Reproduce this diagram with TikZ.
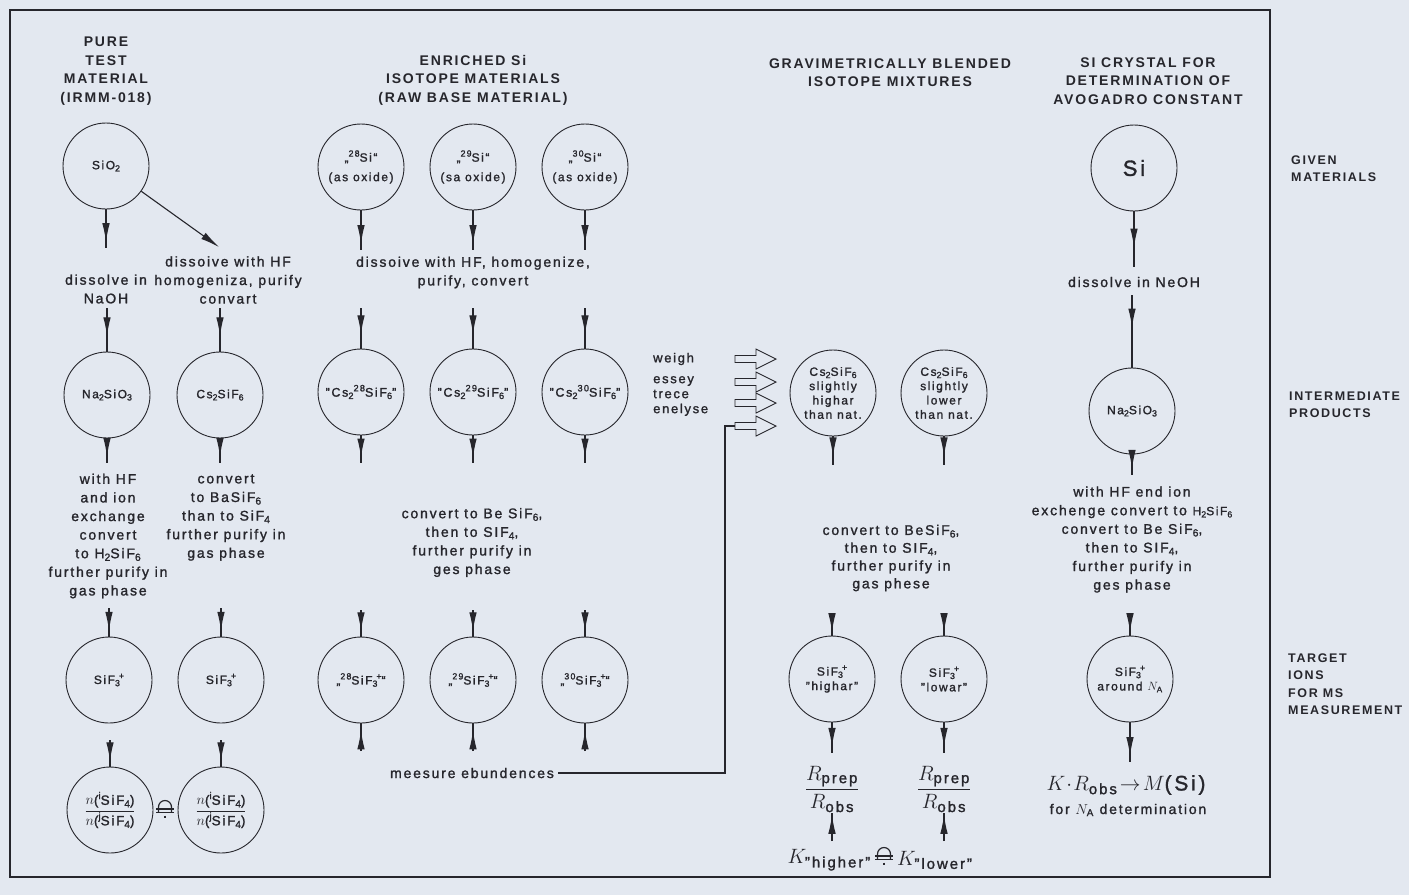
\documentclass[tikz,border=0pt]{standalone}
\usepackage{fontspec}
\setmainfont{Liberation Sans}[LetterSpace=13, UprightFeatures={FakeBold=1.4}]
\usetikzlibrary{arrows.meta,decorations.markings}
\newcommand\fs[2]{\fontsize{#1}{#2}\selectfont}
\newcommand\sbs[1]{\raisebox{-0.35ex}{\scalebox{0.74}{#1}}}
\newcommand\sps[1]{\raisebox{0.8ex}{\scalebox{0.74}{#1}}}
\definecolor{bg}{RGB}{227,232,240}
\definecolor{ink}{RGB}{38,38,44}
\tikzset{
  circ/.style={circle, draw=ink, line width=0.9pt, minimum size=86pt, inner sep=0pt, align=center, font=\fs{12}{14.5}},
  txt/.style={align=center, inner sep=0pt, font=\fs{14}{18.6}},
  hdr/.style={align=center, inner sep=0pt, font=\fs{14}{18.6}\bfseries},
  side/.style={align=left, anchor=west, inner sep=0pt, font=\fs{12.5}{17.5}\bfseries},
  flow/.style={draw=ink, line width=1.2pt, postaction={decorate},
    decoration={markings, mark=at position #1 with {\arrow{Latex[length=19pt,width=7.5pt]}}}},
  flow/.default=0.7,
  conn/.style={draw=ink, line width=1.1pt},
  big/.style={inner sep=0pt, font=\fs{22}{24}},
  gneq/.pic={
    \draw[ink, line width=1.2pt] (-6.5,2.5) -- (-6.5,-3) arc[start angle=180, end angle=360, radius=6.5] -- (6.5,2.5);
    \draw[ink, line width=1.2pt] (-9,-1) -- (9,-1);
    \draw[ink, line width=1.2pt] (-9,2.5) -- (9,2.5);
    \draw[ink, line width=1.2pt] (0,5.5) -- (0,8);
  }
}
\begin{document}
\begin{tikzpicture}[x=1pt,y=-1pt,color=ink]
\fill[white] (0,0) rectangle (1415,895);
\fill[bg] (0,0) rectangle (1409,895);
\useasboundingbox (0,0) rectangle (1415,895);
\draw[ink, line width=1.5pt] (10,10) rectangle (1270,877);

% headers
\node[hdr] (hA) at (106,71) {PURE\\TEST\\MATERIAL\\(IRMM-018)};
\node[hdr] (hB) at (473,80) {ENRICHED Si\\ISOTOPE MATERIALS\\(RAW BASE MATERIAL)};
\node[hdr] (hC) at (890,72.5) {GRAVIMETRICALLY BLENDED\\ISOTOPE MIXTURES};
\node[hdr] (hD) at (1148,81) {SI CRYSTAL FOR\\DETERMINATION OF\\AVOGADRO CONSTANT};

% side labels
\node[side] (sG) at (1291,168.5) {GIVEN\\MATERIALS};
\node[side] (sI) at (1289,405) {INTERMEDIATE\\PRODUCTS};
\node[side] (sT) at (1288,684) {TARGET\\IONS\\FOR MS\\MEASUREMENT};

% ---------- column A / B ----------
\node[circ] (sio2) at (106,166) {SiO\sbs{2}};
\coordinate (a1) at (106,248);
\draw[flow=0.85] (sio2) -- (a1);
\coordinate (a1b) at (219,247);
\draw[conn, -{Latex[length=19pt,width=7.5pt]}] (sio2) -- (a1b);
\node[txt] (tNa) at (106,289) {dissolve in\\NaOH};
\node[txt] (tHF) at (228,280) {dissoive with HF\\homogeniza, purify\\convart};

\node[circ] (na1) at (107,395) {Na\sbs{2}SiO\sbs{3}};
\node[circ] (cs1) at (220,395) {Cs\sbs{2}SiF\sbs{6}};
\coordinate (a2) at (107,308);
\coordinate (a3) at (220,308);
\draw[flow=0.65] (a2) -- (na1);
\draw[flow=0.65] (a3) -- (cs1);
\coordinate (a4) at (107,463);
\coordinate (a5) at (220,463);
\draw[flow=0.75] (na1) -- (a4);
\draw[flow=0.75] (cs1) -- (a5);

\node[txt] (tA2) at (108,536) {with HF\\and ion\\exchange\\convert\\to H\sbs{2}SiF\sbs{6}\\further purify in\\gas phase};
\node[txt] (tB2) at (226,517.5) {convert\\to BaSiF\sbs{6}\\than to SiF\sbs{4}\\further purify in\\gas phase};

\node[circ] (sif1) at (109,680) {SiF\sbs{3}\kern-1pt\sps{+}};
\node[circ] (sif2) at (221,680) {SiF\sbs{3}\kern-1pt\sps{+}};
\coordinate (a6) at (109,608);
\coordinate (a7) at (221,608);
\draw[flow=0.8] (a6) -- (sif1);
\draw[flow=0.8] (a7) -- (sif2);

\node[circ, font=\fs{13.5}{15}] (rat1) at (110,810) {$\displaystyle\frac{n\mbox{(\sps{i}SiF\sbs{4})}}{n\mbox{(\sps{j}SiF\sbs{4})}}$};
\node[circ, font=\fs{13.5}{15}] (rat2) at (221,810) {$\displaystyle\frac{n\mbox{(\sps{i}SiF\sbs{4})}}{n\mbox{(\sps{j}SiF\sbs{4})}}$};
\coordinate (a8) at (110,740);
\coordinate (a9) at (221,740);
\draw[flow=0.8] (a8) -- (rat1);
\draw[flow=0.8] (a9) -- (rat2);
\pic at (165,810) {gneq};

% ---------- enriched isotopes ----------
\node[circ] (i28) at (361,167) {„\sps{28}Si“\\[5pt](as oxide)};
\node[circ] (i29) at (473,167) {„\sps{29}Si“\\[5pt](sa oxide)};
\node[circ] (i30) at (585,167) {„\sps{30}Si“\\[5pt](as oxide)};
\coordinate (b1) at (361,250);
\coordinate (b2) at (473,250);
\coordinate (b3) at (585,250);
\draw[flow=0.85] (i28) -- (b1);
\draw[flow=0.85] (i29) -- (b2);
\draw[flow=0.85] (i30) -- (b3);
\node[txt] (tC) at (473,272.5) {dissoive with HF, homogenize,\\purify, convert};

\node[circ, font=\fs{12.5}{14}] (c28) at (361,392) {"Cs\sbs{2}\sps{28}SiF\sbs{6}"};
\node[circ, font=\fs{12.5}{14}] (c29) at (473,392) {"Cs\sbs{2}\sps{29}SiF\sbs{6}"};
\node[circ, font=\fs{12.5}{14}] (c30) at (585,392) {"Cs\sbs{2}\sps{30}SiF\sbs{6}"};
\coordinate (b4) at (361,308);
\coordinate (b5) at (473,308);
\coordinate (b6) at (585,308);
\draw[flow=0.65] (b4) -- (c28);
\draw[flow=0.65] (b5) -- (c29);
\draw[flow=0.65] (b6) -- (c30);
\coordinate (b7) at (361,463);
\coordinate (b8) at (473,463);
\coordinate (b9) at (585,463);
\draw[flow=0.8] (c28) -- (b7);
\draw[flow=0.8] (c29) -- (b8);
\draw[flow=0.8] (c30) -- (b9);

\node[txt] (tD) at (472,542.5) {convert to Be SiF\sbs{6},\\then to SIF\sbs{4},\\further purify in\\ges phase};

\node[circ] (f28) at (361,680) {„\sps{28}SiF\sbs{3}\kern-1pt\sps{+}“};
\node[circ] (f29) at (473,680) {„\sps{29}SiF\sbs{3}\kern-1pt\sps{+}“};
\node[circ] (f30) at (585,680) {„\sps{30}SiF\sbs{3}\kern-1pt\sps{+}“};
\coordinate (b10) at (361,610);
\coordinate (b11) at (473,610);
\coordinate (b12) at (585,610);
\draw[flow=0.8] (b10) -- (f28);
\draw[flow=0.8] (b11) -- (f29);
\draw[flow=0.8] (b12) -- (f30);
\coordinate (b13) at (361,751);
\coordinate (b14) at (473,751);
\coordinate (b15) at (585,751);
\draw[flow=0.75] (b13) -- (f28);
\draw[flow=0.75] (b14) -- (f29);
\draw[flow=0.75] (b15) -- (f30);

\node[txt, inner xsep=4pt] (meas) at (472,773) {meesure ebundences};

% ---------- blended mixtures ----------
\node[txt, anchor=west, font=\fs{13}{15}] (wg) at (653,359) {weigh};
\node[txt, anchor=west, align=left, font=\fs{13}{15}] (eta) at (653,396) {essey\\trece\\enelyse};
\foreach \yy in {359,382,403,426}{
  \draw[ink, line width=0.9pt] (735,\yy-3.5) -- (756,\yy-3.5) -- (756,\yy-10) -- (776,\yy) -- (756,\yy+10) -- (756,\yy+3.5) -- (735,\yy+3.5) -- cycle;
}
\coordinate (ha4) at (735,426);
\coordinate (c1) at (725,773);
\draw[conn] (meas.east) -- (c1) |- (ha4);

\node[circ, font=\fs{12}{14.3}] (csH) at (833,393) {Cs\sbs{2}SiF\sbs{6}\\slightly\\highar\\than nat.};
\node[circ, font=\fs{12}{14.3}] (csL) at (944,393) {Cs\sbs{2}SiF\sbs{6}\\slightly\\lower\\than nat.};
\coordinate (d1) at (833,465);
\coordinate (d2) at (944,465);
\draw[flow=0.7] (csH) -- (d1);
\draw[flow=0.7] (csL) -- (d2);

\node[txt, font=\fs{14}{17.8}] (tE) at (891,558) {convert to BeSiF\sbs{6},\\then to SIF\sbs{4},\\further purify in\\gas phese};

\node[circ] (sfH) at (832,679) {SiF\sbs{3}\kern-1pt\sps{+}\\"highar"};
\node[circ] (sfL) at (944,679) {SiF\sbs{3}\kern-1pt\sps{+}\\"lowar"};
\coordinate (d3) at (832,613);
\coordinate (d4) at (944,613);
\draw[flow=0.85] (d3) -- (sfH);
\draw[flow=0.85] (d4) -- (sfL);
\coordinate (d5) at (832,753);
\coordinate (d6) at (944,753);
\draw[flow=0.8] (sfH) -- (d5);
\draw[flow=0.8] (sfL) -- (d6);

\node[big, inner sep=1pt] (rH) at (832,789) {$\displaystyle\frac{R_{\mbox{\fs{15}{15}prep}}}{R_{\mbox{\fs{15}{15}obs}}}$};
\node[big, inner sep=1pt] (rL) at (944,789) {$\displaystyle\frac{R_{\mbox{\fs{15}{15}prep}}}{R_{\mbox{\fs{15}{15}obs}}}$};
\coordinate (d7) at (832,841);
\coordinate (d8) at (944,841);
\draw[flow=0.95] (d7) -- (rH);
\draw[flow=0.95] (d8) -- (rL);

\node[big, anchor=east] (kH) at (871,860) {$K_{\mbox{\fs{15}{15}"higher"}}$};
\pic at (884,857) {gneq};
\node[big, anchor=west] (kL) at (897,860) {$K_{\mbox{\fs{15}{15}"lower"}}$};

% ---------- Si crystal ----------
\node[circ, font=\fs{22}{24}] (si) at (1134,168) {Si};
\coordinate (e1) at (1134,267);
\draw[flow=0.65] (si) -- (e1);
\node[txt] (tNe) at (1134,282) {dissolve in NeOH};
\node[circ] (na2) at (1132,411) {Na\sbs{2}SiO\sbs{3}};
\coordinate (e2) at (1132,295);
\draw[flow=0.45] (e2) -- (na2);
\coordinate (e3) at (1132,475);
\draw[flow=0.7] (na2) -- (e3);

\node[txt] (tF) at (1132,539.5) {with HF end ion\\exchenge convert to {\fs{12}{18.6}H\sbs{2}SiF\sbs{6}}\\convert to Be SiF\sbs{6},\\then to SIF\sbs{4},\\further purify in\\ges phase};

\node[circ] (sfN) at (1130,679) {SiF\sbs{3}\kern-1pt\sps{+}\\around $N_{\mbox{\fs{8}{8}A}}$};
\coordinate (e4) at (1130,613);
\draw[flow=0.85] (e4) -- (sfN);
\coordinate (e5) at (1130,762);
\draw[flow=0.85] (sfN) -- (e5);

\node[big, font=\fs{21}{24}] (kr) at (1126,785) {$K\!\cdot\! R_{\mbox{\fs{15}{15}obs}}\!\rightarrow\! M$(Si)};
\node[txt] (fna) at (1128,810) {for $N_{\mbox{\fs{10}{10}A}}$ determination};
\end{tikzpicture}
\end{document}
